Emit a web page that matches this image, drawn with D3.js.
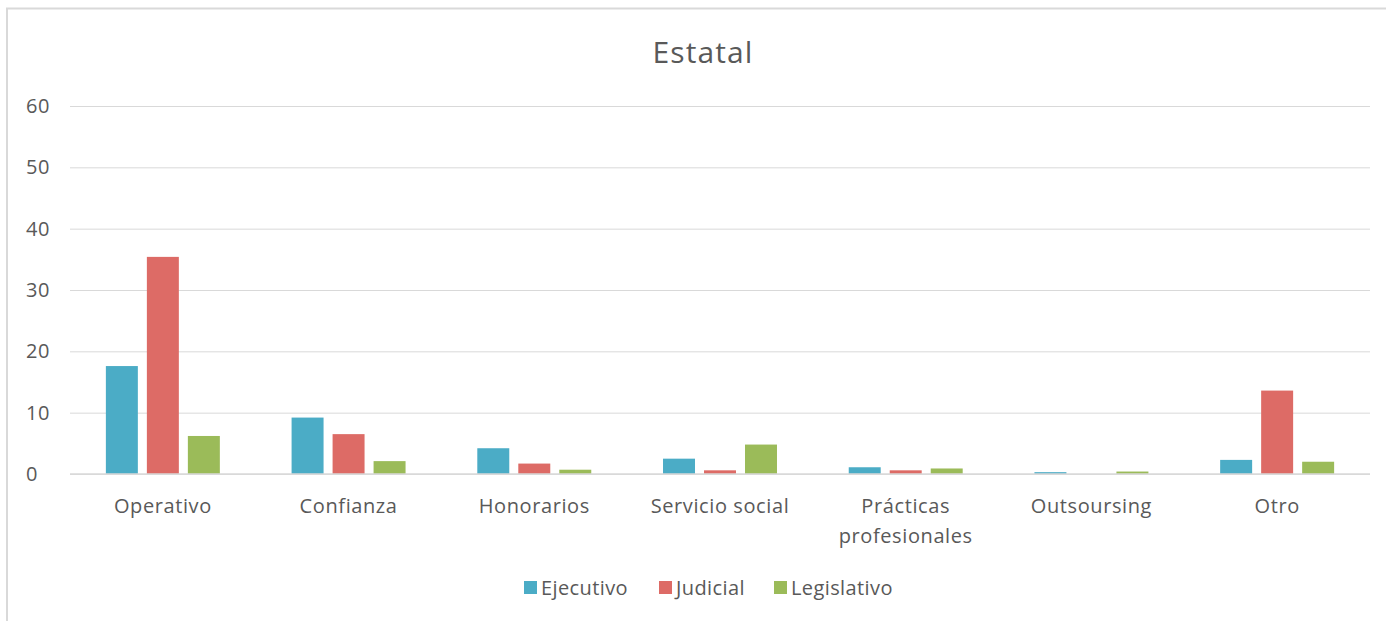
<!DOCTYPE html>
<html>
<head>
<meta charset="utf-8">
<script src="https://cdn.jsdelivr.net/npm/d3@7"></script>
<style>
  body { margin: 0; background: #fff; }
  text { font-family: "Open Sans", Lato, sans-serif; fill: #595959; }
</style>
</head>
<body>
<svg id="chart" width="1386" height="621"></svg>
<script>
// data
const categories = ["Operativo", "Confianza", "Honorarios", "Servicio social",
                    "Prácticas profesionales", "Outsoursing", "Otro"];
const seriesNames = ["Ejecutivo", "Judicial", "Legislativo"];
const ejecutivo   = [17.6, 9.2, 4.2, 2.5, 1.1, 0.3, 2.3];
const judicial    = [35.4, 6.5, 1.7, 0.6, 0.6, 0, 13.6];
const legislativo = [6.2, 2.1, 0.7, 4.8, 0.9, 0.4, 2.0];
const yTicks = [0, 10, 20, 30, 40, 50, 60];
const colors = ["#4bacc6", "#dd6b66", "#9bbb59"];

const seriesData = [ejecutivo, judicial, legislativo];

var svg = d3.select("#chart");
var margin = {left: 70, right: 16, top: 106, bottom: 147};
var width = 1386, height = 621;

// chart frame
svg.append("path")
    .attr("d", "M7,630 V8.5 H1400")
    .attr("fill", "none")
    .attr("stroke", "#d9d9d9")
    .attr("stroke-width", 2);

svg.append("text")
    .attr("x", 703).attr("y", 63)
    .attr("text-anchor", "middle")
    .style("font-size", "30px")
    .style("letter-spacing", "1.1px")
    .text("Estatal");

var x = d3.scaleBand()
    .domain(categories)
    .range([margin.left, width - margin.right]);

var x1 = d3.scaleBand()
    .domain(seriesNames)
    .range([0, x.bandwidth()])
    .paddingInner(0.22)
    .paddingOuter(0.875);

var y = d3.scaleLinear()
    .domain([0, 60])
    .range([height - margin.bottom, margin.top]);

// gridlines + y labels
var yAxis = svg.append("g")
    .attr("transform", `translate(${margin.left},0)`)
    .call(d3.axisLeft(y).tickValues(yTicks).tickSize(-(width - margin.left - margin.right)).tickPadding(14));
yAxis.select(".domain").remove();
yAxis.selectAll(".tick line").attr("stroke", "#d9d9d9").attr("stroke-width", 1);
yAxis.selectAll(".tick text")
    .attr("text-anchor", "start")
    .attr("x", -44)
    .style("font-size", "20px")
    .style("letter-spacing", "0.6px")
    .style("fill", "#595959");

// bars
var groups = svg.append("g").selectAll("g")
    .data(categories)
    .enter().append("g")
    .attr("transform", d => `translate(${x(d)},0)`);

groups.selectAll("rect")
    .data((d, i) => seriesNames.map((s, j) => ({s: s, v: seriesData[j][i], c: colors[j]})))
    .enter().append("rect")
    .attr("x", d => x1(d.s))
    .attr("width", x1.bandwidth())
    .attr("y", d => y(d.v))
    .attr("height", d => y(0) - y(d.v))
    .attr("fill", d => d.c);

// baseline
svg.append("line")
    .attr("x1", margin.left).attr("x2", width - margin.right)
    .attr("y1", y(0)).attr("y2", y(0))
    .attr("stroke", "#d9d9d9").attr("stroke-width", 1.5);

// category labels
var xAxis = svg.append("g")
    .attr("transform", `translate(0,${y(0)})`)
    .call(d3.axisBottom(x).tickSize(0).tickPadding(25));
xAxis.select(".domain").remove();
xAxis.selectAll(".tick text")
    .style("font-size", "20px")
    .style("letter-spacing", "0.6px")
    .style("fill", "#595959")
    .each(function(d) {
        if (d === "Prácticas profesionales") {
            var t = d3.select(this);
            t.text(null);
            t.append("tspan").attr("x", 0).attr("dy", "0.71em").text("Prácticas");
            t.append("tspan").attr("x", 0).attr("dy", "1.5em").text("profesionales");
            t.attr("dy", null);
        }
    });

// legend
var legendX = [524, 659, 774];
var legend = svg.append("g").selectAll("g")
    .data(seriesNames)
    .enter().append("g")
    .attr("transform", (d, i) => `translate(${legendX[i]},588)`);
legend.append("rect")
    .attr("x", 0).attr("y", -7)
    .attr("width", 13).attr("height", 13)
    .attr("fill", (d, i) => colors[i]);
legend.append("text")
    .attr("x", 17).attr("y", 7)
    .style("font-size", "20px")
    .style("letter-spacing", "0.4px")
    .text(d => d);
</script>
</body>
</html>
